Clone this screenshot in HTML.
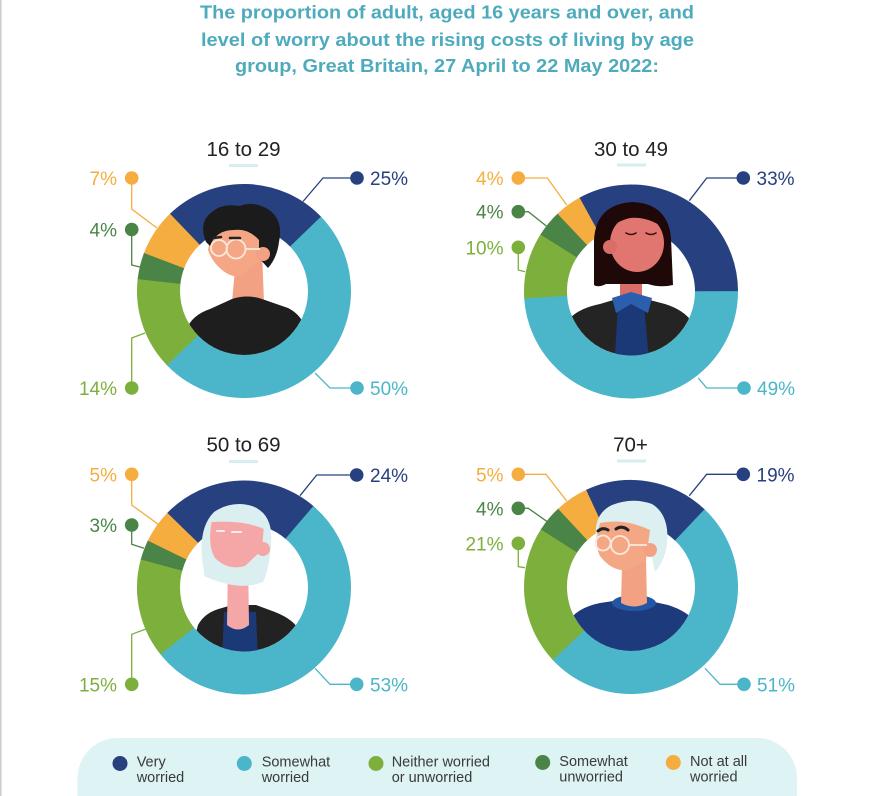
<!DOCTYPE html>
<html>
<head>
<meta charset="utf-8">
<style>
html,body{margin:0;padding:0;background:#fff;overflow:hidden;width:873px;height:796px;}
svg{display:block;}
text{font-family:"Liberation Sans",sans-serif;}
</style>
</head>
<body>
<svg width="873" height="796" viewBox="0 0 873 796" xmlns="http://www.w3.org/2000/svg">
<defs>
<clipPath id="c1"><circle cx="244" cy="291" r="64"/></clipPath>
<clipPath id="c2"><circle cx="631" cy="291.5" r="64"/></clipPath>
<clipPath id="c3"><circle cx="244" cy="587.5" r="64"/></clipPath>
<clipPath id="c4"><circle cx="631" cy="587" r="64"/></clipPath>
</defs>
<rect width="873" height="796" fill="#fff"/>
<rect x="0" y="0" width="1.6" height="796" fill="#cfcfcf"/>

<!-- Title -->
<g fill="#4eabbd" font-weight="bold" font-size="18.5">
<text x="200" y="18.5" textLength="494" lengthAdjust="spacingAndGlyphs">The proportion of adult, aged 16 years and over, and</text>
<text x="201" y="46" textLength="493" lengthAdjust="spacingAndGlyphs">level of worry about the rising costs of living by age</text>
<text x="235" y="72" textLength="424" lengthAdjust="spacingAndGlyphs">group, Great Britain, 27 April to 22 May 2022:</text>
</g>

<!-- Donut titles -->
<g fill="#222" font-size="20.5" text-anchor="middle">
<text x="243.5" y="156">16 to 29</text>
<text x="631" y="156">30 to 49</text>
<text x="243.5" y="451.5">50 to 69</text>
<text x="630.5" y="451.5">70+</text>
</g>
<g fill="#d4eef1">
<rect x="229" y="164" width="29" height="3"/>
<rect x="617" y="163.5" width="29" height="3"/>
<rect x="229" y="460" width="29" height="3"/>
<rect x="617" y="459.5" width="29" height="3"/>
</g>

<!-- Donut 1 -->
<g fill="none" stroke-width="43">
<circle cx="244" cy="291" r="85.5" stroke="#27407f" stroke-dasharray="134.9 537.21" transform="rotate(-134 244 291)"/>
<circle cx="244" cy="291" r="85.5" stroke="#4bb6c9" stroke-dasharray="269.2 537.21" transform="rotate(-44 244 291)"/>
<circle cx="244" cy="291" r="85.5" stroke="#7daf3c" stroke-dasharray="75.8 537.21" transform="rotate(136 244 291)"/>
<circle cx="244" cy="291" r="85.5" stroke="#4a8446" stroke-dasharray="22.1 537.21" transform="rotate(186.4 244 291)"/>
<circle cx="244" cy="291" r="85.5" stroke="#f6ad3f" stroke-dasharray="38.0 537.21" transform="rotate(200.8 244 291)"/>
</g>
<!-- Donut 2 -->
<g fill="none" stroke-width="43">
<circle cx="631" cy="291.5" r="85.5" stroke="#27407f" stroke-dasharray="177.9 537.21" transform="rotate(-119 631 291.5)"/>
<circle cx="631" cy="291.5" r="85.5" stroke="#4bb6c9" stroke-dasharray="263.8 537.21" transform="rotate(-0.2 631 291.5)"/>
<circle cx="631" cy="291.5" r="85.5" stroke="#7daf3c" stroke-dasharray="54.3 537.21" transform="rotate(176.2 631 291.5)"/>
<circle cx="631" cy="291.5" r="85.5" stroke="#4a8446" stroke-dasharray="22.1 537.21" transform="rotate(212.2 631 291.5)"/>
<circle cx="631" cy="291.5" r="85.5" stroke="#f6ad3f" stroke-dasharray="21.9 537.21" transform="rotate(226.6 631 291.5)"/>
</g>
<!-- Donut 3 -->
<g fill="none" stroke-width="43">
<circle cx="244" cy="587.5" r="85.5" stroke="#27407f" stroke-dasharray="129.5 537.21" transform="rotate(-136 244 587.5)"/>
<circle cx="244" cy="587.5" r="85.5" stroke="#4bb6c9" stroke-dasharray="285.3 537.21" transform="rotate(-49.6 244 587.5)"/>
<circle cx="244" cy="587.5" r="85.5" stroke="#7daf3c" stroke-dasharray="81.2 537.21" transform="rotate(141.2 244 587.5)"/>
<circle cx="244" cy="587.5" r="85.5" stroke="#4a8446" stroke-dasharray="16.7 537.21" transform="rotate(195.2 244 587.5)"/>
<circle cx="244" cy="587.5" r="85.5" stroke="#f6ad3f" stroke-dasharray="27.2 537.21" transform="rotate(206 244 587.5)"/>
</g>
<!-- Donut 4 -->
<g fill="none" stroke-width="43">
<circle cx="631" cy="587" r="85.5" stroke="#27407f" stroke-dasharray="102.7 537.21" transform="rotate(-115 631 587)"/>
<circle cx="631" cy="587" r="85.5" stroke="#4bb6c9" stroke-dasharray="274.6 537.21" transform="rotate(-46.6 631 587)"/>
<circle cx="631" cy="587" r="85.5" stroke="#7daf3c" stroke-dasharray="113.4 537.21" transform="rotate(137 631 587)"/>
<circle cx="631" cy="587" r="85.5" stroke="#4a8446" stroke-dasharray="22.1 537.21" transform="rotate(212.6 631 587)"/>
<circle cx="631" cy="587" r="85.5" stroke="#f6ad3f" stroke-dasharray="27.2 537.21" transform="rotate(227 631 587)"/>
</g>

<!-- Person 1 -->
<g clip-path="url(#c1)">
<path d="M236,258 L262,252 L264,302 L232,302 Z" fill="#f2a283"/>
<path d="M176,372 L186,330 Q192,315 210,309 L232,299 Q247,294 262,299 L288,308 Q302,315 306,330 L314,372 Z" fill="#1e1e1e"/>
</g>
<path d="M212,228 L208,250 Q212,262 222,270 Q232,278 240,276 L258,262 L262,236 Q250,226 212,228 Z" fill="#f4a685"/>
<path d="M206,242 Q198,222 212,212 Q222,203 240,206 Q252,201 266,208 Q284,218 279,242 Q277,258 268,268 L259,258 L259,240 Q248,228 234,230 Q216,230 210,246 Z" fill="#1b1b1b"/>
<circle cx="263" cy="254" r="7" fill="#f2a283"/>
<g stroke="#fde9dc" stroke-width="1.8" fill="none">
<circle cx="219" cy="248" r="8"/>
<circle cx="236" cy="249" r="9.5"/>
<line x1="245.5" y1="249" x2="260" y2="249"/>
</g>
<g stroke="#222" stroke-width="2.5" stroke-linecap="round" fill="none">
<path d="M213,238 L221,237"/><path d="M230,238 L240,238"/>
</g>

<!-- Person 2 -->
<g clip-path="url(#c2)">
<path d="M558,372 L570,318 Q580,308 600,304 L620,298 L642,298 L665,304 Q684,310 692,322 L704,372 Z" fill="#242424"/>
<path d="M618,304 L644,304 L650,372 L614,372 Z" fill="#1b3877"/>
<path d="M620,262 L642,262 L642,300 Q631,306 620,300 Z" fill="#d96d68"/>
<path d="M612,298 L631,292 L652,298 L648,313 L631,304 L616,313 Z" fill="#2c5eae"/>
</g>
<path d="M594,285 L594,240 Q596,204 633,202 Q668,204 671,238 L673,285 Q660,288 648,284 L606,284 Q598,288 594,285 Z" fill="#1f0808"/>
<ellipse cx="637" cy="243" rx="27" ry="29" fill="#e0766f"/>
<circle cx="610" cy="247" r="7" fill="#d96d68"/>
<path d="M603,238 Q604,208 633,205 Q664,206 669,232 Q650,216 630,218 Q612,222 603,238 Z" fill="#1f0808"/>
<g stroke="#3a1010" stroke-width="1.6" stroke-linecap="round" fill="none">
<path d="M626,233 Q631,236 636,233"/><path d="M646,233 Q651,236 656,233"/>
</g>

<!-- Person 3 -->
<g clip-path="url(#c3)">
<path d="M188,662 L198,625 Q205,612 222,608 L232,605 L256,605 L275,612 Q295,620 300,632 L308,662 Z" fill="#222"/>
<path d="M224,612 L256,612 L258,662 L222,662 Z" fill="#1b3877"/>
<path d="M228,560 L248,555 L249,625 Q238,634 227,625 Z" fill="#f4a7a6"/>
</g>
<path d="M204,572 Q196,530 214,512 Q232,500 252,506 Q274,514 271,545 Q269,570 263,582 Q240,592 204,576 Z" fill="#dbeff1"/>
<path d="M212,520 Q207,545 215,558 Q228,571 245,566 L262,550 L264,525 Q245,512 212,520 Z" fill="#f4a7a6"/>
<circle cx="263" cy="549" r="7" fill="#f4a7a6"/>
<path d="M212,518 Q228,506 250,512 Q262,518 266,530 Q246,520 212,522 Z" fill="#dbeff1"/>
<g stroke="#fbeeee" stroke-width="2" stroke-linecap="round" fill="none">
<path d="M217,531 L224,531"/><path d="M232,532 L241,532"/>
</g>

<!-- Person 4 -->
<g clip-path="url(#c4)">
<path d="M558,672 L566,625 Q575,608 600,603 L620,600 L645,600 L668,605 Q690,612 697,625 L704,672 Z" fill="#1d3b7c"/>
<ellipse cx="634" cy="603" rx="22" ry="8" fill="#2456a6"/>
<path d="M622,565 L646,560 L647,603 Q634,610 621,603 Z" fill="#f2a283"/>
</g>
<path d="M597,545 Q591,515 612,505 Q632,497 652,504 Q670,515 667,545 Q664,562 655,572 L648,540 L600,540 Z" fill="#dcf0f2"/>
<path d="M600,523 Q594,545 600,556 Q612,572 628,570 L646,560 L650,530 Q625,518 600,523 Z" fill="#f4a785"/>
<circle cx="650" cy="550" r="7" fill="#f2a283"/>
<g stroke="#222" stroke-width="3" stroke-linecap="round" fill="none">
<path d="M598,531 Q603,527 608,530"/><path d="M616,529 Q622,525 628,530"/>
</g>
<g stroke="#fde9dc" stroke-width="1.8" fill="none">
<circle cx="603" cy="543" r="7.5"/>
<circle cx="620" cy="545" r="9"/>
<line x1="629" y1="545" x2="647" y2="545"/>
</g>

<!-- Leader lines -->
<g fill="none" stroke-width="1.3">
<path d="M357,178 H323 L303,201.5" stroke="#27407f"/>
<path d="M357,388 H330 L315,373" stroke="#4bb6c9"/>
<path d="M131.7,178 V209 L157,228" stroke="#f6ad3f"/>
<path d="M131.7,229.5 V265 L140,267" stroke="#4a8446"/>
<path d="M131.7,388 V338 L145,333" stroke="#7daf3c"/>

<path d="M743.3,178 H706.7 L689.3,200.7" stroke="#27407f"/>
<path d="M744,388 H706.7 L698.3,378" stroke="#4bb6c9"/>
<path d="M518.3,178 H547.3 L566.7,205" stroke="#f6ad3f"/>
<path d="M518.3,211.7 H528.3 L547.3,226.7" stroke="#4a8446"/>
<path d="M518.3,247.3 V270 L525,271.7" stroke="#7daf3c"/>

<path d="M356.7,475 H316.7 L300,495.7" stroke="#27407f"/>
<path d="M356.7,684.3 H330 L315,668.3" stroke="#4bb6c9"/>
<path d="M131.7,474.3 V505 L158.3,524.3" stroke="#f6ad3f"/>
<path d="M131.7,525 V544.3 L144,548.3" stroke="#4a8446"/>
<path d="M131.7,684.3 V634.3 L146,629" stroke="#7daf3c"/>

<path d="M743.3,474.3 H706.7 L689.3,495.7" stroke="#27407f"/>
<path d="M744,684.3 H720 L705,668.3" stroke="#4bb6c9"/>
<path d="M518.3,474.3 H546 L566.7,501" stroke="#f6ad3f"/>
<path d="M518.3,508.3 H528.3 L547.3,521.7" stroke="#4a8446"/>
<path d="M518.3,543.3 V566.7 L525,567.7" stroke="#7daf3c"/>
</g>

<!-- Dots -->
<g>
<circle cx="357" cy="178" r="6.8" fill="#27407f"/>
<circle cx="357" cy="388" r="6.8" fill="#4bb6c9"/>
<circle cx="131.7" cy="178" r="6.8" fill="#f6ad3f"/>
<circle cx="131.7" cy="229.5" r="6.8" fill="#4a8446"/>
<circle cx="131.7" cy="388" r="6.8" fill="#7daf3c"/>

<circle cx="743.3" cy="178" r="6.8" fill="#27407f"/>
<circle cx="744" cy="388" r="6.8" fill="#4bb6c9"/>
<circle cx="518.3" cy="178" r="6.8" fill="#f6ad3f"/>
<circle cx="518.3" cy="211.7" r="6.8" fill="#4a8446"/>
<circle cx="518.3" cy="247.3" r="6.8" fill="#7daf3c"/>

<circle cx="356.7" cy="475" r="6.8" fill="#27407f"/>
<circle cx="356.7" cy="684.3" r="6.8" fill="#4bb6c9"/>
<circle cx="131.7" cy="474.3" r="6.8" fill="#f6ad3f"/>
<circle cx="131.7" cy="525" r="6.8" fill="#4a8446"/>
<circle cx="131.7" cy="684.3" r="6.8" fill="#7daf3c"/>

<circle cx="743.3" cy="474.3" r="6.8" fill="#27407f"/>
<circle cx="744" cy="684.3" r="6.8" fill="#4bb6c9"/>
<circle cx="518.3" cy="474.3" r="6.8" fill="#f6ad3f"/>
<circle cx="518.3" cy="508.3" r="6.8" fill="#4a8446"/>
<circle cx="518.3" cy="543.3" r="6.8" fill="#7daf3c"/>
</g>

<!-- Labels -->
<g font-size="19">
<text x="370" y="185" fill="#27407f">25%</text>
<text x="370" y="395" fill="#4bb6c9">50%</text>
<text x="117" y="185" fill="#f6ad3f" text-anchor="end">7%</text>
<text x="117" y="236.5" fill="#4a8446" text-anchor="end">4%</text>
<text x="117" y="395" fill="#7daf3c" text-anchor="end">14%</text>

<text x="756.5" y="185" fill="#27407f">33%</text>
<text x="757" y="395" fill="#4bb6c9">49%</text>
<text x="503.5" y="185" fill="#f6ad3f" text-anchor="end">4%</text>
<text x="503.5" y="218.7" fill="#4a8446" text-anchor="end">4%</text>
<text x="503.5" y="254.3" fill="#7daf3c" text-anchor="end">10%</text>

<text x="370" y="482" fill="#27407f">24%</text>
<text x="370" y="691.3" fill="#4bb6c9">53%</text>
<text x="117" y="481.3" fill="#f6ad3f" text-anchor="end">5%</text>
<text x="117" y="532" fill="#4a8446" text-anchor="end">3%</text>
<text x="117" y="691.3" fill="#7daf3c" text-anchor="end">15%</text>

<text x="756.5" y="481.3" fill="#27407f">19%</text>
<text x="757" y="691.3" fill="#4bb6c9">51%</text>
<text x="503.5" y="481.3" fill="#f6ad3f" text-anchor="end">5%</text>
<text x="503.5" y="515.3" fill="#4a8446" text-anchor="end">4%</text>
<text x="503.5" y="550.3" fill="#7daf3c" text-anchor="end">21%</text>
</g>

<!-- Legend -->
<path d="M77.5,796 V778 A40,40 0 0 1 117.5,738 H757 A40,40 0 0 1 797,778 V796 Z" fill="#ddf3f4"/>
<circle cx="120" cy="763.5" r="7.5" fill="#27407f"/>
<circle cx="244.3" cy="763.5" r="7.5" fill="#4bb6c9"/>
<circle cx="376" cy="763.5" r="7.5" fill="#7daf3c"/>
<circle cx="542.7" cy="762.5" r="7.5" fill="#4a8446"/>
<circle cx="673.3" cy="762.5" r="7.5" fill="#f6ad3f"/>
<g font-size="14.5" fill="#3a3a3a">
<text x="136.7" y="766.5">Very</text>
<text x="136.7" y="782">worried</text>
<text x="261.7" y="766.5">Somewhat</text>
<text x="261.7" y="782">worried</text>
<text x="391.7" y="766.5">Neither worried</text>
<text x="391.7" y="782">or unworried</text>
<text x="559.3" y="766">Somewhat</text>
<text x="559.3" y="781.5">unworried</text>
<text x="690" y="766">Not at all</text>
<text x="690" y="781.5">worried</text>
</g>
</svg>
</body>
</html>
